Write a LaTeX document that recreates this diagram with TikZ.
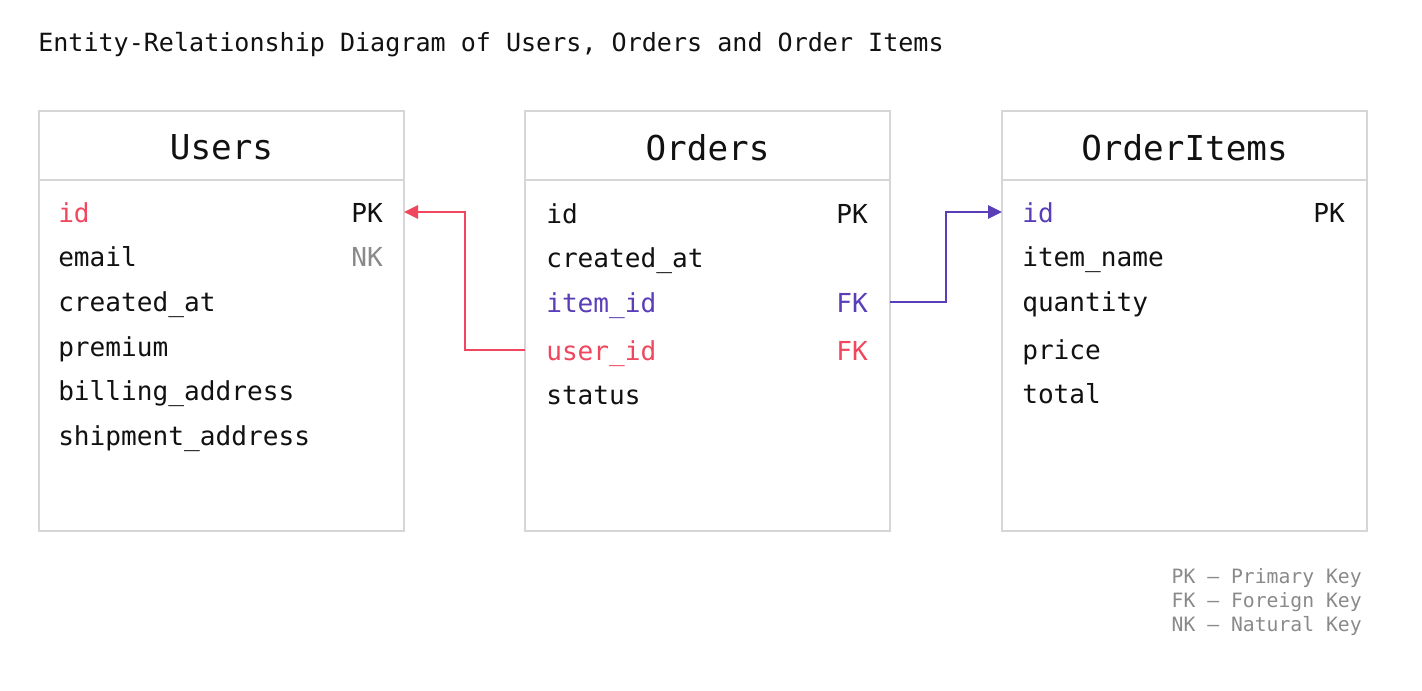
\documentclass[tikz,border=0pt]{standalone}
\usepackage{fontspec}
\newfontfamily\ermono{DejaVu Sans Mono}
\usetikzlibrary{positioning,arrows.meta}
\definecolor{inkblack}{HTML}{111111}
\definecolor{edgegray}{HTML}{D6D6D6}
\definecolor{keygray}{HTML}{8A8A8A}
\definecolor{fkred}{HTML}{F0475E}
\definecolor{fkpurple}{HTML}{5A3EB8}

\begin{document}
\begin{tikzpicture}[x=0.75pt, y=-0.75pt,
  table/.style={rectangle, draw=edgegray, line width=1.5pt, minimum width=273.75pt, minimum height=315pt, inner sep=0pt, outer sep=0pt, anchor=north west},
  head/.style={table, minimum height=51.75pt, text depth=0pt, yshift=-1.5pt, font=\ermono\fontsize{25.7}{30}\selectfont, text=inkblack},
  field/.style={anchor=base west, inner sep=0pt, text height=15pt, text depth=0pt, font=\ermono\fontsize{19.6}{23}\selectfont, text=inkblack},
  keyfield/.style={field, anchor=base east},
  legend/.style={anchor=base east, inner sep=0pt, font=\ermono\fontsize{14.8}{18}\selectfont, text=keygray},
  link/.style={line width=1.5pt, -{Triangle[length=10.5pt,width=10pt]}}]
  \path[fill=white] (0,0) rectangle (1422,690);

  \node (title) [anchor=base west, inner sep=0pt, font=\ermono\fontsize{18.8}{22}\selectfont, text=inkblack] at (38,51) {Entity-Relationship Diagram of Users, Orders and Order Items};

  % tables
  \node (users) [table] at (39,111) {};
  \node (orders) [table, right=90.75pt of users] {};
  \node (items) [table, right=84pt of orders] {};
  \draw[edgegray, line width=1.5pt] (39,180) -- (404,180) (525,180) -- (890,180) (1002,180) -- (1367,180);
  \node (usershead) [head, draw=none] at (39,111) {Users};
  \node (ordershead) [head, draw=none] at (525,111) {Orders};
  \node (itemshead) [head, draw=none] at (1002,111) {OrderItems};

  % Users fields
  \node (uid) [field, text=fkred] at (58,222) {id};
  \node (uemail) [field] at (58,266) {email};
  \node (ucreated) [field] at (58,311) {created\_at};
  \node (upremium) [field] at (58,356) {premium};
  \node (ubilling) [field] at (58,400) {billing\_address};
  \node (ushipment) [field] at (58,445) {shipment\_address};
  \node (uidkey) [keyfield] at (383,222) {PK};
  \node (uemailkey) [keyfield, text=keygray] at (383,266) {NK};

  % Orders fields
  \node (oid) [field] at (546,223) {id};
  \node (ocreated) [field] at (546,267) {created\_at};
  \node (oitemid) [field, text=fkpurple] at (546,312) {item\_id};
  \node (ouserid) [field, text=fkred] at (546,360) {user\_id};
  \node (ostatus) [field] at (546,404) {status};
  \node (oidkey) [keyfield] at (868,223) {PK};
  \node (oitemkey) [keyfield, text=fkpurple] at (868,312) {FK};
  \node (ouserkey) [keyfield, text=fkred] at (868,360) {FK};

  % OrderItems fields
  \node (iid) [field, text=fkpurple] at (1022,222) {id};
  \node (iname) [field] at (1022,266) {item\_name};
  \node (iquantity) [field] at (1022,311) {quantity};
  \node (iprice) [field] at (1022,359) {price};
  \node (itotal) [field] at (1022,403) {total};
  \node (iidkey) [keyfield] at (1345,222) {PK};

  % relations
  \draw[link, fkred] (orders.west |- ouserid) -- ++(-60,0) |- (users.east |- uid);
  \draw[link, fkpurple] (orders.east |- oitemid) -- ++(56,0) |- (items.west |- iid);

  % legend
  \node (pklegend) [legend] at (1362,583) {PK — Primary Key};
  \node (fklegend) [legend] at (1362,607) {FK — Foreign Key};
  \node (nklegend) [legend] at (1362,631) {NK — Natural Key};
\end{tikzpicture}
\end{document}
